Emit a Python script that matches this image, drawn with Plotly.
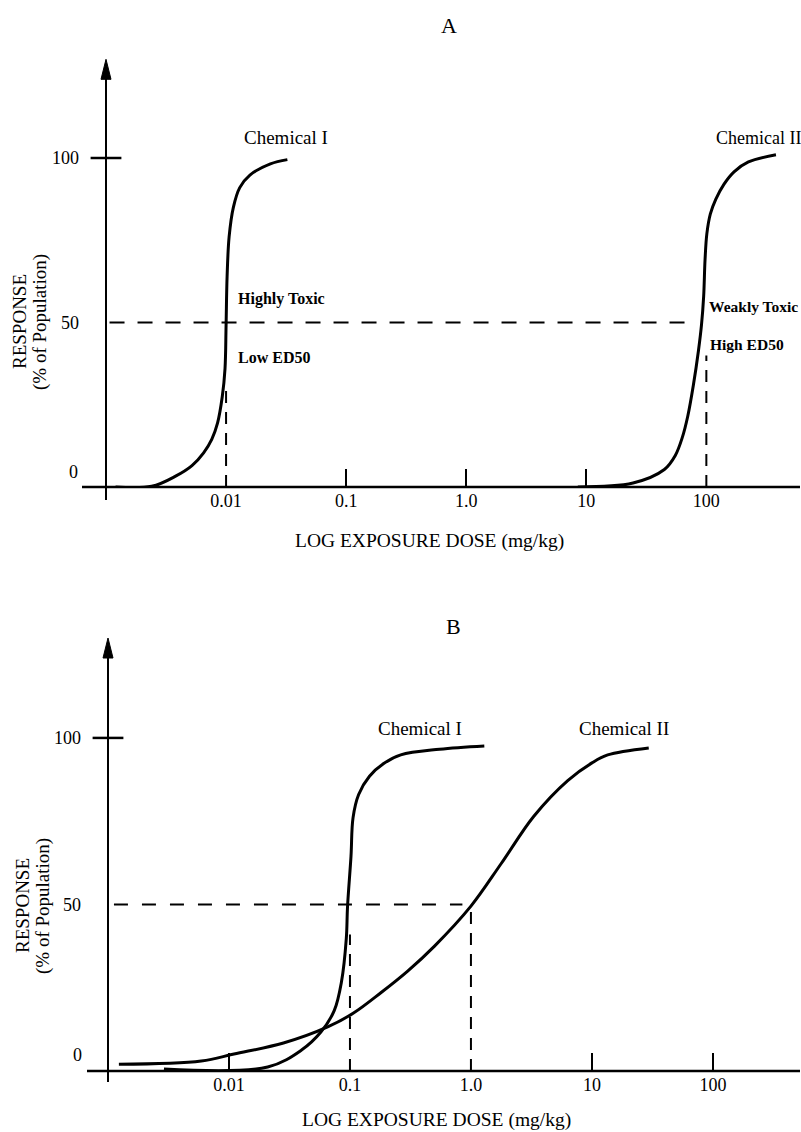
import plotly.graph_objects as go

# ---------------- data ----------------
tick_vals = [0.01, 0.1, 1, 10, 100]
tick_text = ["0.01", "0.1", "1.0", "10", "100"]
y_tick_vals = [50, 100]
y_tick_text = ["50", "100"]

# Panel A
a_chem1_dose = [0.0012, 0.0024, 0.0038, 0.0052, 0.0065, 0.0076, 0.0085, 0.0093, 0.0098,
                0.0100, 0.0102, 0.0106, 0.0115, 0.0130, 0.0158, 0.0234, 0.0324]
a_chem1_resp = [0, 0.2, 3.3, 6.5, 10.4, 14.5, 19.5, 27.5, 36, 49, 64, 76, 85, 91,
                94.8, 98.2, 99.5]
a_chem2_dose = [8.5, 24.5, 44.7, 55.0, 63.0, 70.0, 78.0, 86.0, 91.2, 95.0, 97.5,
                101, 108, 120, 140, 170, 224, 380]
a_chem2_resp = [0, 1.2, 5.3, 9.5, 15.0, 21.5, 31.0, 41.5, 49.4, 58, 69, 77, 83,
                87.5, 92, 95.8, 98.8, 101]
a_ed50_dose = [0.01, 100]
a_ed50_drop_top = [30, 40]
a_half_line_dose = [0.00107, 69]

# Panel B
b_chem1_dose = [0.0029, 0.0209, 0.0398, 0.0575, 0.0741, 0.0851, 0.0933, 0.0955,
                0.102, 0.106, 0.118, 0.145, 0.190, 0.263, 0.55, 1.29]
b_chem1_resp = [0.6, 1.2, 6.3, 11.7, 18.1, 26.8, 39.8, 49.4, 64.5, 76.0, 83, 88.5,
                92.3, 94.9, 96.6, 97.6]
b_chem2_dose = [0.00123, 0.0059, 0.011, 0.0282, 0.0661, 0.107, 0.18, 0.30, 0.50, 1.0,
                1.78, 3.31, 6.31, 10.0, 13.5, 29.5]
b_chem2_resp = [2.0, 3.0, 5.1, 8.4, 13.3, 17.4, 23.5, 30.0, 37.5, 49.5, 62.3, 76.5,
                87.2, 92.5, 94.9, 97.0]
b_ed50_dose = [0.1, 1.0]
b_ed50_drop_top = [41, 48]
b_half_line_dose = [0.00112, 0.85]

W, H = 801, 1132
FONT = "Liberation Serif"


def px(x, y):
    return x / W, 1 - y / H


fig = go.Figure()


def curve(xs, ys, xa, ya):
    fig.add_trace(go.Scatter(x=xs, y=ys, mode="lines", xaxis=xa, yaxis=ya,
                             line=dict(color="black", width=3, shape="spline", smoothing=1.0),
                             hoverinfo="skip", showlegend=False))


def dashed(xs, ys, xa, ya, dash):
    fig.add_trace(go.Scatter(x=xs, y=ys, mode="lines", xaxis=xa, yaxis=ya,
                             line=dict(color="black", width=2, dash=dash),
                             hoverinfo="skip", showlegend=False))


# Panel A traces
dashed(a_half_line_dose, [50, 50], "x", "y", "15px,13px")
for d, top in zip(a_ed50_dose, a_ed50_drop_top):
    dashed([d, d], [0, top], "x", "y", "12px,9px")
curve(a_chem1_dose, a_chem1_resp, "x", "y")
curve(a_chem2_dose, a_chem2_resp, "x", "y")

# Panel B traces
dashed(b_half_line_dose, [50, 50], "x2", "y2", "14px,14px")
for d, top in zip(b_ed50_dose, b_ed50_drop_top):
    dashed([d, d], [0, top], "x2", "y2", "12px,9px")
curve(b_chem1_dose, b_chem1_resp, "x2", "y2")
curve(b_chem2_dose, b_chem2_resp, "x2", "y2")

# y=100 cross ticks on the y axes
for xa, ya in (("x", "y"), ("x2", "y2")):
    fig.add_trace(go.Scatter(x=[0.001], y=[100], mode="markers", xaxis=xa, yaxis=ya,
                             marker=dict(symbol="line-ew", size=22,
                                         line=dict(color="black", width=2.5)),
                             cliponaxis=False, hoverinfo="skip", showlegend=False))

tickfont = dict(family=FONT, size=18, color="black")


def xaxis_cfg(domain, rng, minor_vals, anchor):
    return dict(type="log", domain=domain, range=rng, anchor=anchor,
                showgrid=False, zeroline=False, showline=False,
                tickmode="array", tickvals=tick_vals, ticktext=tick_text,
                ticks="", tickfont=tickfont, ticklabelstandoff=1,
                minor=dict(tickmode="array", tickvals=minor_vals, ticks="inside",
                           ticklen=18, tickwidth=2, tickcolor="black", showgrid=False),
                fixedrange=True)


def yaxis_cfg(domain, anchor):
    return dict(domain=domain, range=[0, 130], anchor=anchor,
                showgrid=False, zeroline=False, showline=False,
                tickmode="array", tickvals=y_tick_vals, ticktext=y_tick_text,
                ticks="", tickfont=tickfont, ticklabelstandoff=26,
                fixedrange=True)


fig.update_layout(
    width=W, height=H,
    margin=dict(l=0, r=0, t=0, b=0),
    paper_bgcolor="white", plot_bgcolor="white",
    showlegend=False,
    xaxis=xaxis_cfg([106 / W, 800 / W], [-3, 2.78], [0.1, 1, 10], "y"),
    yaxis=yaxis_cfg([1 - 487 / H, 1 - 59.3 / H], "x"),
    xaxis2=xaxis_cfg([108 / W, 800 / W], [-3, 2.72], [0.01, 10, 100], "y2"),
    yaxis2=yaxis_cfg([1 - 1071 / H, 1 - 638 / H], "x2"),
)

# axis lines with crossing extensions and arrowheads
shapes = []
for xs, ys, ext_left, ext_down, dom_w, dom_h in (
        ("x", "y", 24, 13, 694, 427.7), ("x2", "y2", 21, 11, 692, 433)):
    shapes.append(dict(type="line", xref=f"{xs} domain", yref=f"{ys} domain",
                       x0=-ext_left / dom_w, x1=1, y0=0, y1=0,
                       line=dict(color="black", width=2.5)))
    shapes.append(dict(type="line", xref=f"{xs} domain", yref=f"{ys} domain",
                       x0=0, x1=0, y0=-ext_down / dom_h, y1=1 - 10 / dom_h,
                       line=dict(color="black", width=2)))
    hw = 5 / dom_w
    hh = 20 / dom_h
    shapes.append(dict(type="path", xref=f"{xs} domain", yref=f"{ys} domain",
                       path=f"M 0,1 L {-hw},{1 - hh} L {hw},{1 - hh} Z",
                       fillcolor="black", line=dict(color="black", width=1)))
fig.update_layout(shapes=shapes)

# texts
ann = []


def text(s, x, y, size=18, bold=False, xanchor="center", angle=0):
    xp, yp = px(x, y)
    ann.append(dict(text=f"<b>{s}</b>" if bold else s, x=xp, y=yp, xref="paper",
                    yref="paper", showarrow=False, xanchor=xanchor, yanchor="middle",
                    textangle=angle, font=dict(family=FONT, size=size, color="black")))


# Panel A
text("A", 449, 25, size=22)
text("Chemical I", 286, 138, size=19)
text("Chemical II", 714, 138, size=18, xanchor="left")
text("Highly Toxic", 236, 299, size=16, bold=True, xanchor="left")
text("Low ED50", 236, 357, size=16, bold=True, xanchor="left")
text("Weakly Toxic", 707, 307, size=15.5, bold=True, xanchor="left")
text("High ED50", 708, 345, size=15.5, bold=True, xanchor="left")
text("0", 73, 472, size=18)
text("LOG EXPOSURE DOSE (mg/kg)", 429, 541, size=19.5)
text("RESPONSE", 19, 322, size=19, angle=-90)
text("(% of Population)", 40, 322, size=19, angle=-90)

# Panel B
text("B", 453, 626, size=22)
text("Chemical I", 420, 728, size=19)
text("Chemical II", 624, 728, size=19)
text("0", 77, 1055, size=18)
text("LOG EXPOSURE DOSE (mg/kg)", 436, 1120, size=19.5)
text("RESPONSE", 22, 906, size=19, angle=-90)
text("(% of Population)", 43, 906, size=19, angle=-90)

fig.update_layout(annotations=ann)

fig.write_html("out.html", config={"displayModeBar": False, "staticPlot": True},
               post_script="document.body.style.margin='0';document.body.style.overflow='hidden';")
